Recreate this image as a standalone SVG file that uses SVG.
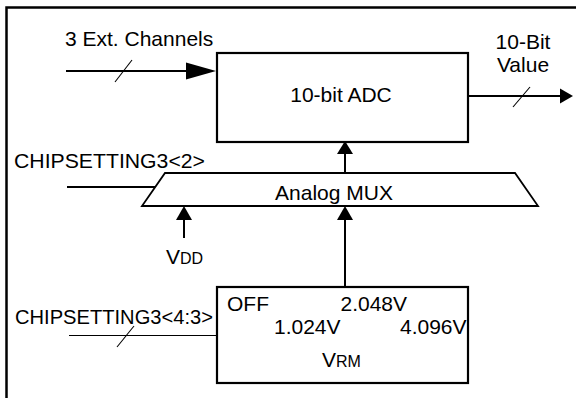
<svg xmlns="http://www.w3.org/2000/svg" width="576" height="398" viewBox="0 0 576 398">
<style>
text{font-family:"Liberation Sans",Arial,sans-serif;font-size:21px;fill:#000}
.box{fill:#fff;stroke:#000;stroke-width:2.2}
.ln{fill:none;stroke:#000;stroke-width:2}
.thin{fill:none;stroke:#000;stroke-width:1.1}
.head{fill:#000;stroke:none}
.sm{font-size:16px}
</style>
<rect width="576" height="398" fill="#fff"/>
<rect x="6.5" y="7.5" width="620" height="420" fill="none" stroke="#000" stroke-width="2.5"/>
<g id="adc">
<rect class="box" x="217" y="53" width="251" height="89"/>
<text x="341" y="102" text-anchor="middle">10-bit ADC</text>
</g>
<g id="mux">
<polygon points="165,173 515,173 538,206 142,206" fill="#fff" stroke="#000" stroke-width="1.8"/>
<text x="334" y="200" text-anchor="middle">Analog MUX</text>
</g>
<g id="vrm">
<rect class="box" x="217" y="287" width="251" height="96"/>
<text x="227" y="311">OFF</text>
<text x="340.5" y="311">2.048V</text>
<text x="274" y="334">1.024V</text>
<text x="400" y="334">4.096V</text>
<text x="322" y="367">V<tspan class="sm">RM</tspan></text>
</g>
<g id="labels">
<text x="65" y="46">3 Ext. Channels</text>
<text x="523" y="49" text-anchor="middle">10-Bit</text>
<text x="523" y="72" text-anchor="middle">Value</text>
<text x="14" y="168" textLength="191" lengthAdjust="spacingAndGlyphs">CHIPSETTING3&lt;2&gt;</text>
<text x="166" y="264">V<tspan class="sm">DD</tspan></text>
<text x="15" y="324" textLength="198" lengthAdjust="spacingAndGlyphs">CHIPSETTING3&lt;4:3&gt;</text>
</g>
<g id="connectors">
<line class="ln" x1="66" y1="71" x2="188" y2="71"/>
<polygon class="head" points="186,62.5 216,71 186,79.5"/>
<line class="thin" x1="132" y1="60" x2="115" y2="82"/>
<line class="ln" x1="468" y1="96" x2="562" y2="96"/>
<polygon class="head" points="560,88.5 573,96 560,103.5"/>
<line class="thin" x1="530" y1="87" x2="513" y2="107"/>
<line class="ln" x1="345" y1="173" x2="345" y2="152"/>
<polygon class="head" points="337,154 345,141 353,154"/>
<line class="ln" x1="67" y1="187" x2="155" y2="187"/>
<line class="ln" x1="184" y1="238" x2="184" y2="218"/>
<polygon class="head" points="176,220 184,206 192,220"/>
<line class="ln" x1="345" y1="287" x2="345" y2="218"/>
<polygon class="head" points="337,220 345,206 353,220"/>
<line class="thin" x1="69" y1="335.5" x2="217" y2="335.5"/>
<line class="thin" x1="134" y1="326" x2="117" y2="347"/>
</g>
</svg>
